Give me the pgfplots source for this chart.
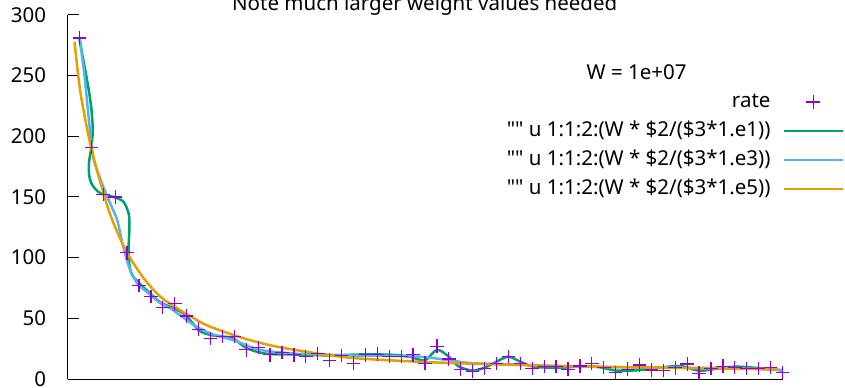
\documentclass[border=0pt]{standalone}
\usepackage{pgfplots}
\pgfplotsset{compat=1.18}
\usepackage{fontspec}
\setmainfont{Noto Sans}[Ligatures=TeXOff]
\definecolor{gpviolet}{HTML}{9400D3}
\definecolor{gpgreen}{HTML}{009E73}
\definecolor{gpblue}{HTML}{56B4E9}
\definecolor{gporange}{HTML}{E69F00}
\newcommand\gpfont{\fontsize{20.5bp}{24bp}\selectfont}
\pgfplotsset{
  gpmarkleg/.style={legend image code/.code={\draw[##1] plot coordinates {(29.5bp,0bp)};}},
  gplineleg/.style={legend image code/.code={\draw[##1] (0bp,0bp) -- (59bp,0bp);}},
}
\begin{document}
\begin{tikzpicture}
\begin{axis}[
  at={(67.5bp,9bp)}, anchor=south west,
  scale only axis, width=715bp, height=364bp,
  xmin=0, xmax=60, ymin=0, ymax=300,
  axis lines=left, axis line style={-, black, line width=1bp},
  xtick=\empty,
  ytick={0,50,...,300},
  tick align=inside,
  major tick length=11bp,
  tick style={black, line width=1bp},
  yticklabel style={font=\gpfont, xshift=-18bp},
  /pgf/number format/assume math mode=true,
  legend style={font=\gpfont, draw=none, fill=none, at={(1.086,0.787)}, anchor=north east,
    inner sep=0pt, outer sep=0pt, row sep=10bp, column sep=12bp,
    nodes={inner sep=0pt, text height=15bp, text depth=4bp}},
  legend cell align=right,
  legend plot pos=right,
  clip=false,
]
\addplot[only marks, mark=+, mark size=6.8bp, draw=gpviolet, color=gpviolet,
  mark options={draw=gpviolet, line width=1.2bp}, gpmarkleg] table {
x y
1 281
2 191
3 152
4 150
5 104
6 77
7 68
8 59
9 62
10 52
11 41
12 33.5
13 35
14 35
15 24
16 26
17 20
18 22
19 20
20 18.5
21 21
22 15.5
23 19.5
24 13
25 20
26 20.5
27 18.5
28 18.5
29 20
30 13
31 27
32 16.5
33 8
34 6.5
35 8.8
36 12.9
37 18.4
38 12.9
39 8.8
40 10.2
41 10.2
42 8
43 10.7
44 12.9
45 9.6
46 5.5
47 8
48 11.5
49 7.4
50 7
51 9.2
52 12.4
53 4.7
54 8.8
55 10.5
56 9.6
57 8.5
58 8.8
59 9.6
60 5.2
};
\addlegendentry{rate}
\addplot[gpgreen, line width=2.5bp, smooth, gplineleg] coordinates {
(1,281) (1.23,268) (1.65,246) (1.99,224) (2.12,205) (2.0,191) (1.8,178) (1.82,168) (2.07,160)
(2.77,153) (3.88,150) (4.7,146) (5.14,136) (5.2,125) (5.14,112) (5.15,98) (5.4,86) (6.26,76.6)
(7,70) (7.8,63) (8.6,59.6) (9.75,54) (10.5,46) (11.1,39.5) (12,36.3) (13,35) (13.9,33.5)
(15.06,25.3) (16.7,20.8) (19,20.2) (22,19.5) (25,20.3) (27.6,19.8) (28.9,17.9) (30,15.3)
(31,24) (32,18.4) (32.8,10.5) (34.06,6.9) (35.2,10.2) (36,14.3) (37,18.4) (38,14.3) (39.1,10.2)
(41.3,9.2) (43,10.5) (44.5,10) (46,7) (47.5,7) (49,8.5) (51.4,10.7) (53,6.8) (54.5,8.5)
(56,10.2) (58,9) (60,7)
};
\addlegendentry{"" u 1:1:2:(W * \$2/(\$3*1.e1))}
\addplot[gpblue, line width=2.5bp, smooth, gplineleg] coordinates {
(1,281) (1.37,255) (1.65,228) (1.93,201) (2.2,181) (2.9,161) (3.46,147.5) (4.17,131) (4.58,113)
(5.14,93) (5.84,79) (6.8,70.6) (7.8,62.4) (8.63,58.3) (10.6,44.5) (12,37.6) (13.9,32) (16.2,24)
(19,21) (21.8,20) (24.6,19.2) (28,19) (30,18) (32,15.5) (34,13) (38,11.8) (42,10.5) (48,9.5)
(55,9) (60,7.5)
};
\addlegendentry{"" u 1:1:2:(W * \$2/(\$3*1.e3))}
\addplot[gporange, line width=2.5bp, smooth, gplineleg] coordinates {
(0.59,278) (1.09,236) (2,190) (3.19,147.5) (3.88,128) (5,104) (6.4,83) (7.8,67.8) (9.2,58.3)
(10.6,50) (12,43) (14.8,33.5) (17.6,26.6) (21.8,19.8) (24.6,16.8) (30,14) (35,12.3) (41.3,10.7)
(50,9.3) (59.6,8)
};
\addlegendentry{"" u 1:1:2:(W * \$2/(\$3*1.e5))}
\end{axis}
\node[font=\gpfont, anchor=base] at (424.7bp,377bp) {Note much larger weight values needed};
\node[font=\gpfont] at (636.7bp,316.3bp) {W = 1e+07};
\pgfresetboundingbox
\path (0,0) rectangle (845bp,388bp);
\end{tikzpicture}
\end{document}
